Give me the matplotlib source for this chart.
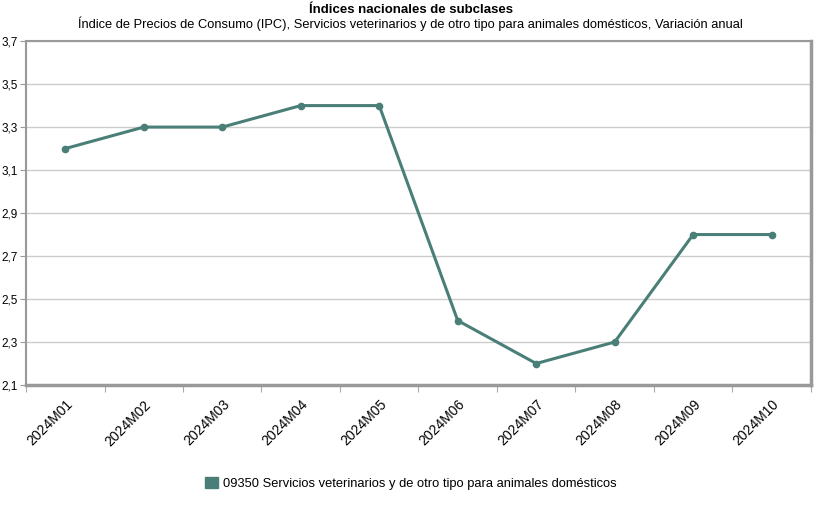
import numpy as np
import matplotlib
matplotlib.use('Agg')
import matplotlib.pyplot as plt
from matplotlib.patches import Patch

plt.rcParams['font.family'] = ['Liberation Sans', 'DejaVu Sans']

# datos
periodos = ['2024M01', '2024M02', '2024M03', '2024M04', '2024M05',
            '2024M06', '2024M07', '2024M08', '2024M09', '2024M10']
valores = [3.2, 3.3, 3.3, 3.4, 3.4, 2.4, 2.2, 2.3, 2.8, 2.8]
yticks = [2.1, 2.3, 2.5, 2.7, 2.9, 3.1, 3.3, 3.5, 3.7]
serie = '09350 Servicios veterinarios y de otro tipo para animales domésticos'
color = '#4a7f78'

fig = plt.figure(figsize=(8.21, 5.05), dpi=100)
ax = fig.add_axes([0.0317, 0.2376, 0.956, 0.681])

x = np.arange(len(periodos))
ax.plot(x, valores, color=color, lw=2.2, marker='o', ms=4.5, zorder=3)

ax.set_xlim(-0.5, len(periodos) - 0.5)
ax.set_ylim(2.1, 3.7)
ax.set_yticks(yticks)
ax.set_yticklabels([('%.1f' % v).replace('.', ',') for v in yticks], fontsize=8.5)
ax.grid(axis='y', color='#cccccc', lw=1)
ax.set_axisbelow(True)

# marcas entre categorias, etiquetas al centro
ax.set_xticks(np.arange(len(periodos) + 1) - 0.5)
ax.set_xticklabels([])
ax.set_xticks(x, minor=True)
ax.set_xticklabels(periodos, minor=True, rotation=45, ha='right',
                   rotation_mode='anchor', fontsize=10)
ax.tick_params(axis='x', which='minor', length=0, pad=9)
ax.tick_params(axis='x', which='major', length=5, color='#aaaaaa')
ax.tick_params(axis='y', length=4, color='#999999', pad=2)

for s in ['left', 'top']:
    ax.spines[s].set_color('#999999')
    ax.spines[s].set_linewidth(1.5)
for s in ['bottom', 'right']:
    ax.spines[s].set_color('#999999')
    ax.spines[s].set_linewidth(2.5)

fig.text(0.5, 0.993, 'Índices nacionales de subclases', ha='center', va='top',
         fontsize=9.5, fontweight='bold')
fig.text(0.5, 0.968, 'Índice de Precios de Consumo (IPC), Servicios veterinarios y de otro tipo '
         'para animales domésticos, Variación anual', ha='center', va='top', fontsize=9.3)

fig.legend(handles=[Patch(facecolor=color, edgecolor=color)], labels=[serie],
           loc='center', bbox_to_anchor=(0.5, 0.043), frameon=False, fontsize=9.3,
           handlelength=1.0, handleheight=1.0, handletextpad=0.4)

plt.savefig('out.png', dpi=100)
